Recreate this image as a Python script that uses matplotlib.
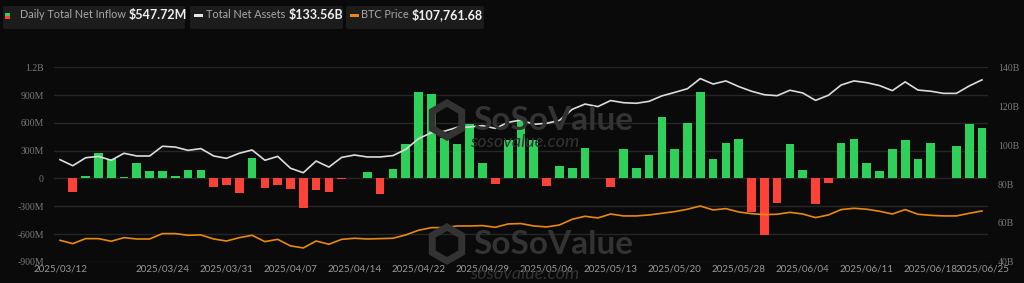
import matplotlib
matplotlib.use("Agg")
import matplotlib.pyplot as plt
from matplotlib.patches import FancyBboxPatch, Rectangle, RegularPolygon
from matplotlib.transforms import IdentityTransform
import numpy as np

# daily net inflow, million USD (73 trading days 2025/03/12 .. 2025/06/25)
inflow = [10, -144, 29, 270, 208, 11, 162, 79, 79, 22, 86, 86, -93, -72, -158, 216,
          -100, -68, -111, -323, -129, -151, -2, 1, 72, -172, 104, 377, 931, 913,
          438, 377, 589, 169, -57, 420, 668, 420, -86, 137, 115, 331, 3, -97, 313,
          111, 255, 661, 323, 604, 931, 205, 381, 428, -363, -614, -269, 377, 86,
          -280, -47, 384, 428, 162, 83, 320, 410, 212, 384, 2, 345, 586, 548]
# total net assets, billion USD
assets = [92.5, 89.4, 93.5, 94.2, 92.2, 95.8, 94.4, 94.4, 99.4, 99.0, 97.3, 98.2,
          94.4, 93.2, 95.8, 97.5, 92.2, 94.2, 88.1, 85.8, 91.8, 88.7, 93.7, 94.9,
          93.9, 93.9, 94.6, 97.8, 103.3, 106.4, 107.1, 109.1, 109.3, 110.0, 108.6,
          111.7, 112.9, 110.7, 111.2, 112.7, 118.4, 121.1, 119.8, 122.9, 121.8,
          121.5, 122.5, 125.3, 127.1, 129.0, 134.2, 131.4, 133.0, 130.1, 127.7,
          125.9, 125.4, 128.2, 126.8, 123.0, 125.6, 130.9, 133.0, 132.1, 130.6,
          128.0, 132.5, 128.3, 127.7, 126.6, 126.6, 130.4, 133.56]
# BTC price, thousand USD
btc = [83.2, 80.4, 84.6, 84.6, 82.4, 85.4, 84.3, 84.3, 88.8, 88.8, 87.4, 87.7,
       84.3, 82.6, 85.4, 87.4, 82.1, 84.0, 78.5, 76.8, 82.6, 79.9, 84.0, 84.9,
       84.3, 84.6, 84.9, 87.7, 91.6, 93.8, 93.8, 95.2, 95.2, 95.5, 94.1, 96.9,
       97.2, 95.2, 94.4, 96.0, 100.8, 103.3, 101.9, 105.2, 103.6, 103.6, 104.4,
       105.8, 107.2, 109.2, 111.9, 108.6, 109.7, 106.9, 105.5, 104.7, 105.0,
       106.6, 105.2, 102.2, 104.4, 108.9, 110.0, 109.2, 107.5, 105.2, 108.9,
       105.0, 104.1, 103.6, 103.6, 105.8, 107.76]

tick_idx = [0, 8, 13, 18, 23, 28, 33, 38, 43, 48, 53, 58, 63, 68, 72]
tick_labels = ["2025/03/12", "2025/03/24", "2025/03/31", "2025/04/07", "2025/04/14",
               "2025/04/22", "2025/04/29", "2025/05/06", "2025/05/13", "2025/05/20",
               "2025/05/28", "2025/06/04", "2025/06/11", "2025/06/18", "2025/06/25"]
left_ticks = [-900, -600, -300, 0, 300, 600, 900, 1200]
left_labels = ["-900M", "-600M", "-300M", "0", "300M", "600M", "900M", "1.2B"]
right_ticks = [40, 60, 80, 100, 120, 140]

BG = "#0a0a0a"
GREEN = "#2fd05a"
RED = "#ff4238"
WM = "#333333"

fig = plt.figure(figsize=(10.24, 2.83), dpi=100, facecolor=BG)
ax = fig.add_axes([53.6 / 1024, 1 - 261.8 / 283, (988.4 - 53.6) / 1024, (261.8 - 67.3) / 283])
ax.set_facecolor(BG)

# watermarks (behind the data)
for cy, sub_y in [(120, 142), (244, 274)]:
    fig.patches.append(RegularPolygon((447, 283 - cy), 6, radius=17, orientation=0,
                                      transform=IdentityTransform(), facecolor="none",
                                      edgecolor=WM, lw=5, zorder=0))
    fig.text(473 / 1024, 1 - cy / 283, "SoSoValue", fontsize=24, fontweight="bold",
             color=WM, family="Lato", ha="left", va="center", zorder=0)
    fig.text(470 / 1024, 1 - sub_y / 283, "sosovalue.com", fontsize=13, color=WM,
             style="italic", family="Lato", ha="left", va="center", zorder=0)

x = np.arange(len(inflow))
vals = np.array(inflow)
cols = [GREEN if v >= 0 else RED for v in vals]
ax.bar(x, vals, width=0.68, color=cols, zorder=2)
ax.set_xlim(-0.5, len(x) - 0.5)
ax.set_ylim(-900, 1200)
ax.set_yticks(left_ticks)
ax.set_yticklabels(left_labels, family="Liberation Serif", fontsize=7, color="#7a7a7a")
ax.yaxis.grid(True, color="#262626", lw=1, zorder=0)
ax.tick_params(axis="y", length=0, pad=7)
ax.set_xticks(tick_idx)
ax.set_xticklabels(tick_labels, family="Lato", fontsize=7, color="#9a9a9a")
ax.tick_params(axis="x", length=0, pad=2)
ax.patch.set_alpha(0)
for s in ax.spines.values():
    s.set_visible(False)

ax2 = ax.twinx()
ax2.plot(x, assets, color="#dcdcdc", lw=1.2, zorder=3)
ax2.set_ylim(40, 140)
ax2.set_yticks(right_ticks)
ax2.set_yticklabels([f"{t}B" for t in right_ticks], family="Liberation Serif",
                    fontsize=7, color="#7a7a7a")
ax2.tick_params(axis="y", length=0, pad=7)
for s in ax2.spines.values():
    s.set_visible(False)

ax3 = ax.twinx()
ax3.plot(x, btc, color="#e8890c", lw=1.2, zorder=3)
ax3.set_ylim(65.2, 228.0)
ax3.axis("off")

# legend chips
W, H = 1024.0, 283.0
chips = [(3, 185, "Daily Total Net Inflow", "$547.72M"),
         (190, 343, "Total Net Assets", "$133.56B"),
         (346, 484, "BTC Price", "$107,761.68")]
for x0, x1, name, value in chips:
    fig.patches.append(FancyBboxPatch((x0 / W, 1 - 29 / H), (x1 - x0) / W, 23 / H,
                                      boxstyle="round,pad=0,rounding_size=0.004",
                                      transform=fig.transFigure, facecolor="#1c1c1c",
                                      edgecolor="none"))
# legend icons
fig.patches.append(Rectangle((5 / W, 1 - 16 / H), 5 / W, 3 / H, transform=fig.transFigure,
                             facecolor=GREEN, edgecolor="none"))
fig.patches.append(Rectangle((5 / W, 1 - 19 / H), 5 / W, 3 / H, transform=fig.transFigure,
                             facecolor=RED, edgecolor="none"))
fig.patches.append(Rectangle((194 / W, 1 - 16.5 / H), 9 / W, 3 / H, transform=fig.transFigure,
                             facecolor="#e6e6e6", edgecolor="none"))
fig.patches.append(Rectangle((350 / W, 1 - 16.5 / H), 9 / W, 3 / H, transform=fig.transFigure,
                             facecolor="#e8890c", edgecolor="none"))

name_x = [20, 206, 361]
for (x0, x1, name, value), nx in zip(chips, name_x):
    t = fig.text(nx / W, 1 - 15 / H, name, fontsize=7.8, color="#a8a8a8", family="Lato",
                 va="center", ha="left")
    fig.canvas.draw()
    bb = t.get_window_extent()
    fig.text((bb.x1 + 3) / W, 1 - 15 / H, value, fontsize=9, color="#f0f0f0",
             family="Lato", fontweight="bold", va="center", ha="left")

fig.savefig("out.png", dpi=100, facecolor=BG)
